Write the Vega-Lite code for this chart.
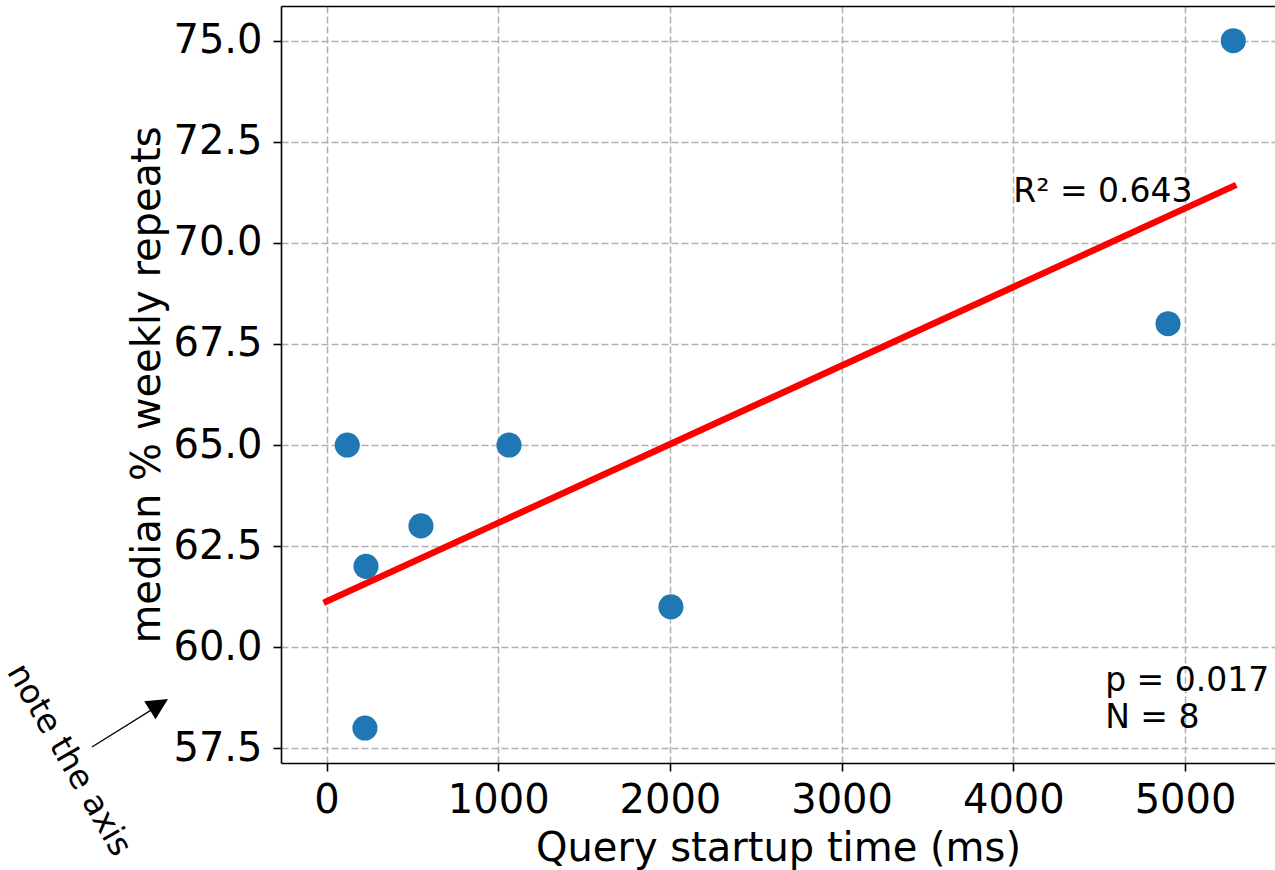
{
  "$schema": "https://vega.github.io/schema/vega-lite/v6.json",
  "width": 994,
  "height": 757,
  "autosize": {"type": "none"},
  "padding": {"left": 281, "top": 6, "right": 0, "bottom": 107},
  "background": "white",
  "config": {
    "view": {"stroke": null},
    "font": "DejaVu Sans",
    "axis": {
      "labelFont": "DejaVu Sans",
      "titleFont": "DejaVu Sans",
      "labelFontSize": 40,
      "titleFontSize": 40,
      "titleFontWeight": "normal",
      "labelColor": "black",
      "titleColor": "black",
      "tickColor": "black",
      "tickSize": 8,
      "tickWidth": 1.6,
      "domainColor": "black",
      "domainWidth": 1.6,
      "grid": true,
      "gridColor": "#b0b0b0",
      "gridDash": [7, 3],
      "gridWidth": 1.5,
      "labelFlush": false,
      "labelOverlap": false
    }
  },
  "layer": [
    {
      "data": {"values": [
        {"startup_ms": 121, "repeats": 65},
        {"startup_ms": 230, "repeats": 62},
        {"startup_ms": 224, "repeats": 58},
        {"startup_ms": 550, "repeats": 63},
        {"startup_ms": 1063, "repeats": 65},
        {"startup_ms": 2006, "repeats": 61},
        {"startup_ms": 4901, "repeats": 68},
        {"startup_ms": 5281, "repeats": 75}
      ]},
      "mark": {"type": "circle", "size": 630, "color": "#1f77b4", "opacity": 1},
      "encoding": {
        "x": {
          "field": "startup_ms", "type": "quantitative",
          "scale": {"domain": [-265, 5524], "nice": false, "zero": false},
          "axis": {"orient": "bottom", "values": [0, 1000, 2000, 3000, 4000, 5000], "format": "d", "title": "Query startup time (ms)", "labelPadding": 9, "titlePadding": 8}
        },
        "y": {
          "field": "repeats", "type": "quantitative",
          "scale": {"domain": [57.136, 75.858], "nice": false, "zero": false},
          "axis": {"values": [57.5, 60, 62.5, 65, 67.5, 70, 72.5, 75], "format": ".1f", "title": "median % weekly repeats", "labelPadding": 11, "titlePadding": 5}
        }
      }
    },
    {
      "data": {"values": [
        {"startup_ms": 0, "repeats": 61.13},
        {"startup_ms": 5281, "repeats": 71.40}
      ]},
      "mark": {"type": "line", "color": "red", "strokeWidth": 6.5, "strokeCap": "square"},
      "encoding": {
        "x": {"field": "startup_ms", "type": "quantitative", "axis": {"orient": "top", "labels": false, "ticks": false, "grid": false, "title": null, "domain": true}},
        "y": {"field": "repeats", "type": "quantitative"}
      }
    },
    {
      "data": {"values": [
        {"x": 4000, "y": 71.0, "label": "R² = 0.643"},
        {"x": 4535, "y": 58.92, "label": "p = 0.017"},
        {"x": 4535, "y": 58.0, "label": "N = 8"}
      ]},
      "mark": {"type": "text", "fontSize": 33, "align": "left", "baseline": "alphabetic", "color": "black", "font": "DejaVu Sans"},
      "encoding": {
        "x": {"field": "x", "type": "quantitative", "axis": null},
        "y": {"field": "y", "type": "quantitative"},
        "text": {"field": "label"}
      }
    },
    {
      "data": {"values": [{"x": -1500, "y": 57.21, "label": "note the axis"}]},
      "mark": {"type": "text", "fontSize": 33, "align": "center", "baseline": "middle", "angle": 60, "color": "black", "font": "DejaVu Sans"},
      "encoding": {
        "x": {"field": "x", "type": "quantitative", "axis": null},
        "y": {"field": "y", "type": "quantitative"},
        "text": {"field": "label"}
      }
    },
    {
      "data": {"values": [{"x": -1366, "y": 57.53, "x2": -940, "y2": 58.66}]},
      "mark": {"type": "rule", "color": "black", "strokeWidth": 1.3},
      "encoding": {
        "x": {"field": "x", "type": "quantitative", "axis": null},
        "y": {"field": "y", "type": "quantitative"},
        "x2": {"field": "x2"},
        "y2": {"field": "y2"}
      }
    },
    {
      "data": {"values": [{"x": -923, "y": 58.72}]},
      "mark": {"type": "point", "shape": "M0,0L-1,-0.5L-1,0.5Z", "filled": true, "color": "black", "opacity": 1, "size": 1832, "angle": 328, "strokeWidth": 0},
      "encoding": {
        "x": {"field": "x", "type": "quantitative", "axis": null},
        "y": {"field": "y", "type": "quantitative"}
      }
    }
  ],
  "resolve": {"axis": {"x": "independent"}}
}
